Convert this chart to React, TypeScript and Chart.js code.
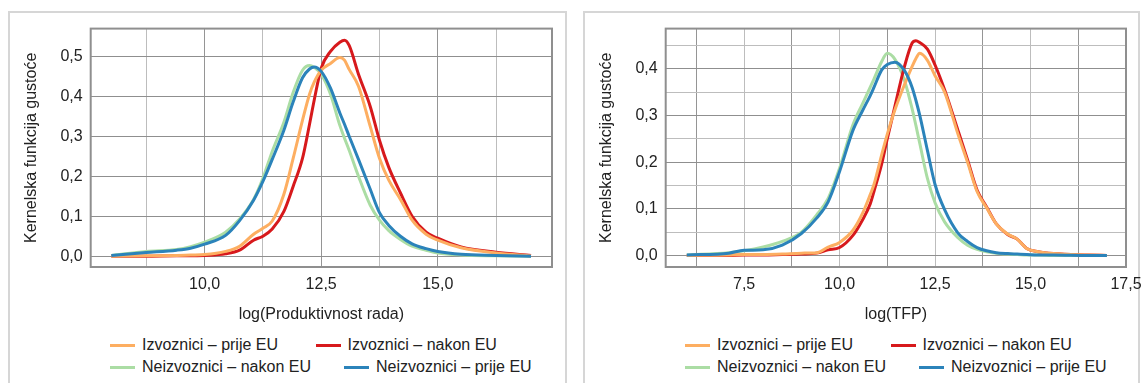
import React, { useEffect, useRef } from "react";
import { Chart, registerables } from "chart.js";

Chart.register(...registerables);

// ---------- Data: left chart (log of labour productivity) ----------
const prodX = [8.0, 8.75, 9.4, 9.7, 10.0, 10.45, 10.75, 11.05, 11.25, 11.45, 11.7, 11.9, 12.1, 12.25, 12.35, 12.5, 12.7, 12.9, 13.0, 13.1, 13.3, 13.55, 13.75, 13.95, 14.2, 14.45, 14.75, 15.0, 15.5, 16.25, 17.0];
const prodNeizPrije = [0.002, 0.009, 0.015, 0.02, 0.03, 0.052, 0.089, 0.14, 0.187, 0.242, 0.315, 0.386, 0.446, 0.468, 0.473, 0.462, 0.42, 0.358, 0.33, 0.3, 0.242, 0.168, 0.109, 0.077, 0.05, 0.031, 0.019, 0.012, 0.005, 0.002, 0.0];
const prodNeizNakon = [0.002, 0.012, 0.017, 0.024, 0.035, 0.06, 0.093, 0.142, 0.195, 0.262, 0.335, 0.41, 0.465, 0.477, 0.472, 0.455, 0.405, 0.327, 0.295, 0.265, 0.2, 0.128, 0.09, 0.064, 0.042, 0.025, 0.015, 0.008, 0.003, 0.001, 0.0];
const prodIzvPrije = [0.0, 0.001, 0.002, 0.003, 0.004, 0.012, 0.025, 0.055, 0.07, 0.088, 0.155, 0.245, 0.34, 0.405, 0.435, 0.465, 0.482, 0.497, 0.49, 0.467, 0.425, 0.325, 0.245, 0.19, 0.142, 0.09, 0.055, 0.04, 0.021, 0.008, 0.001];
const prodIzvNakon = [0.0, 0.0, 0.001, 0.001, 0.002, 0.006, 0.015, 0.04, 0.05, 0.068, 0.112, 0.175, 0.245, 0.33, 0.39, 0.47, 0.512, 0.535, 0.54, 0.527, 0.455, 0.375, 0.29, 0.222, 0.158, 0.1, 0.06, 0.045, 0.023, 0.01, 0.002];
const prodXTicks = [8.75, 10, 11.25, 12.5, 13.75, 15, 16.25];
const prodXLabeled = [10, 12.5, 15];
const prodYTicks = [0, 0.1, 0.2, 0.3, 0.4, 0.5];
const prodYLabeled = [0, 0.1, 0.2, 0.3, 0.4, 0.5];

// ---------- Data: right chart (log TFP) ----------
const tfpX = [6.0, 7.1, 7.5, 8.0, 8.5, 9.0, 9.4, 9.7, 10.0, 10.35, 10.6, 10.8, 10.9, 11.1, 11.25, 11.45, 11.7, 11.9, 12.0, 12.1, 12.3, 12.5, 12.75, 13.1, 13.35, 13.6, 13.85, 14.1, 14.4, 14.65, 14.9, 15.2, 15.6, 16.5, 17.0];
const tfpNeizPrije = [0.001, 0.005, 0.011, 0.012, 0.022, 0.047, 0.08, 0.115, 0.18, 0.268, 0.31, 0.342, 0.36, 0.397, 0.409, 0.414, 0.396, 0.36, 0.332, 0.3, 0.225, 0.152, 0.098, 0.048, 0.03, 0.017, 0.01, 0.006, 0.004, 0.003, 0.002, 0.001, 0.001, 0.0, 0.0];
const tfpNeizNakon = [0.001, 0.006, 0.01, 0.018, 0.03, 0.05, 0.087, 0.122, 0.187, 0.28, 0.325, 0.36, 0.378, 0.415, 0.433, 0.42, 0.375, 0.314, 0.278, 0.24, 0.165, 0.113, 0.072, 0.038, 0.022, 0.013, 0.008, 0.005, 0.003, 0.002, 0.001, 0.001, 0.0, 0.0, 0.0];
const tfpIzvPrije = [0.0, 0.001, 0.002, 0.002, 0.003, 0.005, 0.006, 0.018, 0.028, 0.054, 0.09, 0.13, 0.152, 0.215, 0.26, 0.312, 0.366, 0.405, 0.422, 0.433, 0.418, 0.385, 0.35, 0.26, 0.2, 0.137, 0.102, 0.068, 0.046, 0.035, 0.015, 0.008, 0.004, 0.001, 0.0];
const tfpIzvNakon = [0.0, 0.0, 0.001, 0.001, 0.002, 0.003, 0.005, 0.012, 0.017, 0.043, 0.076, 0.11, 0.137, 0.195, 0.25, 0.32, 0.405, 0.455, 0.46, 0.456, 0.442, 0.408, 0.355, 0.268, 0.205, 0.14, 0.104, 0.068, 0.045, 0.035, 0.015, 0.008, 0.004, 0.001, 0.0];
const tfpXTicks = [6.25, 7.5, 8.75, 10, 11.25, 12.5, 13.75, 15, 16.25, 17.5];
const tfpXLabeled = [7.5, 10, 12.5, 15, 17.5];
const tfpYTicks = [0, 0.05, 0.1, 0.15, 0.2, 0.25, 0.3, 0.35, 0.4, 0.45];
const tfpYLabeled = [0, 0.1, 0.2, 0.3, 0.4];

// ---------- Series names & colours ----------
const seriesNames = ["Izvoznici – prije EU", "Izvoznici – nakon EU", "Neizvoznici – nakon EU", "Neizvoznici – prije EU"];
const seriesColors = ["#fdae61", "#d7191c", "#abdda4", "#2b83ba"];

const FONT = "'Liberation Sans', Arial, Helvetica, sans-serif";
const TEXT = "#222222";

const isIn = (arr: number[], v: number) => arr.some((a) => Math.abs(a - v) < 1e-6);
const fmt = (v: number) => v.toFixed(1).replace(".", ",");

const borderPlugin = {
  id: "plotBorder",
  afterDraw(chart: any) {
    const { ctx, chartArea } = chart;
    ctx.save();
    ctx.strokeStyle = "#8f8f8f";
    ctx.lineWidth = 2;
    ctx.strokeRect(chartArea.left, chartArea.top, chartArea.right - chartArea.left, chartArea.bottom - chartArea.top);
    ctx.restore();
  },
};

type Cfg = {
  xs: number[];
  series: number[][]; // in seriesNames order
  xMin: number;
  xMax: number;
  yMin: number;
  yMax: number;
  xTicks: number[];
  xLabeled: number[];
  yTicks: number[];
  yLabeled: number[];
  xTitle: string;
  padRight: number;
  xGridColor: (v: number) => string;
  yGridColor: (v: number) => string;
};

function KdeChart({ cfg, width, height }: { cfg: Cfg; width: number; height: number }) {
  const ref = useRef<HTMLCanvasElement | null>(null);
  useEffect(() => {
    if (!ref.current) return;
    const mk = (i: number) => ({
      label: seriesNames[i],
      data: cfg.xs.map((x, k) => ({ x, y: cfg.series[i][k] })),
      borderColor: seriesColors[i],
      backgroundColor: seriesColors[i],
      borderWidth: 3,
      pointRadius: 0,
      fill: false,
      cubicInterpolationMode: "monotone" as const,
    });
    // first dataset is drawn on top
    const datasets = [mk(3), mk(0), mk(1), mk(2)];
    const chart = new Chart(ref.current, {
      type: "line",
      data: { datasets },
      plugins: [borderPlugin],
      options: {
        animation: false,
        responsive: false,
        maintainAspectRatio: false,
        layout: { padding: { left: 0, right: cfg.padRight, top: 14, bottom: 0 } },
        plugins: { legend: { display: false }, tooltip: { enabled: false } },
        scales: {
          x: {
            type: "linear",
            min: cfg.xMin,
            max: cfg.xMax,
            afterBuildTicks: (s: any) => {
              s.ticks = cfg.xTicks.map((v) => ({ value: v }));
            },
            afterFit: (s: any) => {
              s.height = 64;
              s.paddingLeft = 0;
              s.paddingRight = 0;
            },
            ticks: {
              autoSkip: false,
              maxRotation: 0,
              padding: 8,
              color: TEXT,
              font: { family: FONT, size: 16 },
              callback: (v: any) => (isIn(cfg.xLabeled, Number(v)) ? fmt(Number(v)) : ""),
            },
            grid: {
              drawTicks: false,
              lineWidth: 1,
              color: (c: any) => cfg.xGridColor(c.tick ? c.tick.value : 0),
            },
            border: { display: false },
            title: {
              display: true,
              text: cfg.xTitle,
              color: TEXT,
              font: { family: FONT, size: 16 },
              padding: { top: 0, bottom: 6.4 },
            },
          },
          y: {
            type: "linear",
            min: cfg.yMin,
            max: cfg.yMax,
            afterBuildTicks: (s: any) => {
              s.ticks = cfg.yTicks.map((v) => ({ value: v }));
            },
            afterFit: (s: any) => {
              s.width = 82.7;
            },
            ticks: {
              autoSkip: false,
              padding: 8,
              color: TEXT,
              font: { family: FONT, size: 16 },
              callback: (v: any) => (isIn(cfg.yLabeled, Number(v)) ? fmt(Number(v)) : ""),
            },
            grid: {
              drawTicks: false,
              lineWidth: 1,
              color: (c: any) => cfg.yGridColor(c.tick ? c.tick.value : 0),
            },
            border: { display: false },
            title: {
              display: true,
              text: "Kernelska funkcija gustoće",
              color: TEXT,
              font: { family: FONT, size: 16 },
              padding: { top: 14.1, bottom: 0 },
            },
          },
        },
      },
    });
    return () => chart.destroy();
  }, [cfg]);
  return <canvas ref={ref} width={width} height={height} style={{ width, height, display: "block" }} />;
}

const leftCfg: Cfg = {
  xs: prodX,
  series: [prodIzvPrije, prodIzvNakon, prodNeizNakon, prodNeizPrije],
  xMin: 7.557,
  xMax: 17.45,
  yMin: -0.027,
  yMax: 0.569,
  xTicks: prodXTicks,
  xLabeled: prodXLabeled,
  yTicks: prodYTicks,
  yLabeled: prodYLabeled,
  xTitle: "log(Produktivnost rada)",
  padRight: 15,
  xGridColor: (v) => (isIn(prodXLabeled, v) ? "#959595" : "#bdbdbd"),
  yGridColor: () => "#8f8f8f",
};

const rightCfg: Cfg = {
  xs: tfpX,
  series: [tfpIzvPrije, tfpIzvNakon, tfpNeizNakon, tfpNeizPrije],
  xMin: 5.447,
  xMax: 17.5,
  yMin: -0.0247,
  yMax: 0.486,
  xTicks: tfpXTicks,
  xLabeled: tfpXLabeled,
  yTicks: tfpYTicks,
  yLabeled: tfpYLabeled,
  xTitle: "log(TFP)",
  padRight: 16,
  xGridColor: (v) => (isIn(tfpXLabeled, v) ? "#bdbdbd" : "#959595"),
  yGridColor: (v) => (isIn(tfpYLabeled, v) ? "#8f8f8f" : "#bdbdbd"),
};

function LegendItem({ idx, left, top }: { idx: number; left: number; top: number }) {
  return (
    <div
      style={{
        position: "absolute",
        left,
        top,
        height: 20,
        display: "flex",
        alignItems: "center",
        whiteSpace: "nowrap",
        font: `16px ${FONT}`,
        color: TEXT,
      }}
    >
      <span style={{ display: "inline-block", width: 25, height: 3, background: seriesColors[idx], marginRight: 7 }} />
      <span>{seriesNames[idx]}</span>
    </div>
  );
}

function Panel({ left, width, cfg }: { left: number; width: number; cfg: Cfg }) {
  return (
    <>
      <div
        style={{
          position: "absolute",
          left,
          top: 11,
          width: width,
          height: 420,
          boxSizing: "border-box",
          border: "2px solid #d6d6d6",
        }}
      />
      <div style={{ position: "absolute", left, top: 11 }}>
        <KdeChart cfg={cfg} width={width === 557 ? 559 : width} height={320} />
      </div>
      <LegendItem idx={0} left={left + 102} top={335} />
      <LegendItem idx={1} left={left + 307.5} top={335} />
      <LegendItem idx={2} left={left + 102} top={357.3} />
      <LegendItem idx={3} left={left + 336} top={357.3} />
    </>
  );
}

export default function App() {
  return (
    <div
      style={{
        position: "fixed",
        left: 0,
        top: 0,
        width: 1142,
        height: 383,
        overflow: "hidden",
        background: "#ffffff",
      }}
    >
      <Panel left={8} width={559} cfg={leftCfg} />
      <Panel left={583} width={557} cfg={rightCfg} />
    </div>
  );
}
